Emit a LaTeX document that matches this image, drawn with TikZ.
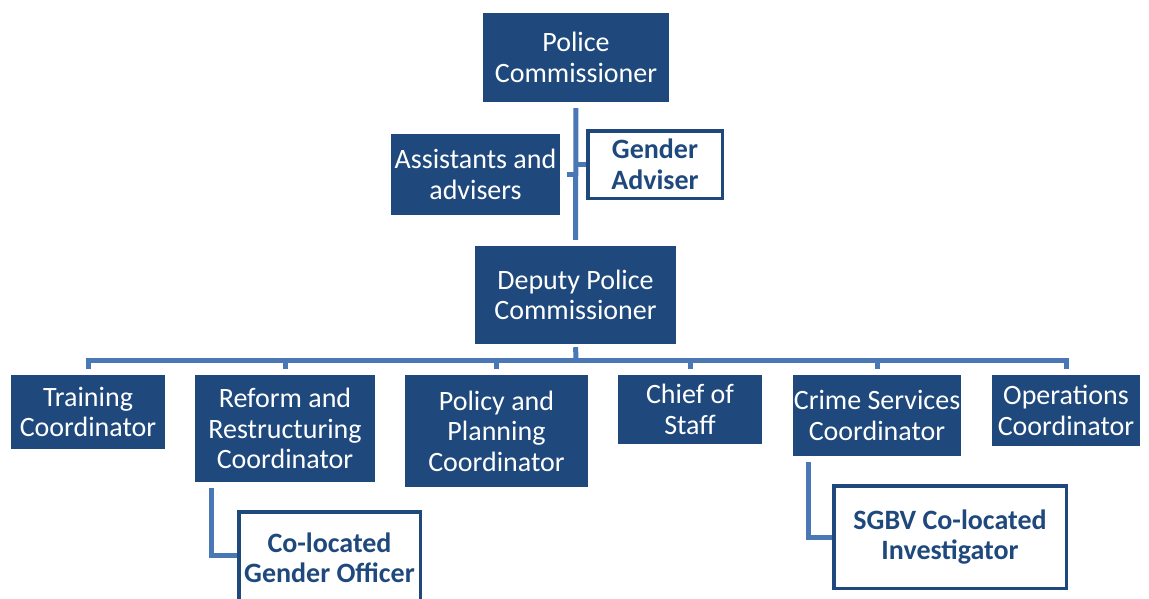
\documentclass[tikz,border=0pt]{standalone}
\usepackage{fontspec}
\setmainfont{Carlito}
\definecolor{dk}{RGB}{31,73,125}
\definecolor{ln}{RGB}{74,120,180}
\begin{document}
\begin{tikzpicture}[x=1pt,y=-1pt,
  dbox/.style={fill=dk, text=white, inner sep=0pt, align=center, font=\fontsize{28}{30.5}\selectfont},
  wbox/.style={draw=dk, line width=3.5pt, fill=white, text=dk, inner sep=0pt, align=center, font=\bfseries\fontsize{28}{30.5}\selectfont},
  conn/.style={draw=ln, line width=5pt, line join=miter}]
\fill[white] (0,0) rectangle (1149,598);
\useasboundingbox (0,0) rectangle (1149,598);
% nodes
\node[dbox, minimum width=186pt, minimum height=89pt] (pc) at (576,57.5) {Police\\Commissioner};
\node[dbox, minimum width=169pt, minimum height=81pt] (aa) at (475.5,174.5) {Assistants and\\advisers};
\node[wbox, minimum width=134.5pt, minimum height=67.5pt] (ga) at (655,164.5) {Gender\\Adviser};
\node[dbox, minimum width=201pt, minimum height=98pt] (dpc) at (575.5,295) {Deputy Police\\Commissioner};
\node[dbox, minimum width=154pt, minimum height=74pt] (tc) at (88,412) {Training\\Coordinator};
\node[dbox, minimum width=180pt, minimum height=107pt] (rr) at (285,428.5) {Reform and\\Restructuring\\Coordinator};
\node[dbox, minimum width=183pt, minimum height=112pt] (pp) at (496.5,431) {Policy and\\Planning\\Coordinator};
\node[dbox, minimum width=144pt, minimum height=69pt] (cs) at (690,409.5) {Chief of\\Staff};
\node[dbox, minimum width=168pt, minimum height=81pt] (csc) at (877,415.5) {Crime Services\\Coordinator};
\node[dbox, minimum width=148pt, minimum height=71pt] (oc) at (1066,410.5) {Operations\\Coordinator};
\node[wbox, minimum width=181.5pt, minimum height=92.5pt] (cgo) at (329.5,558) {Co-located\\Gender Officer};
\node[wbox, minimum width=232.5pt, minimum height=102.5pt] (sg) at (950,537) {SGBV Co-located\\Investigator};
% connectors
\draw[conn, shorten <=6pt, shorten >=6pt] (pc.south) -- (dpc.north);
\draw[conn, shorten <=7pt] (aa.east) -- (aa.east -| pc.south);
\draw[conn] (ga.west -| pc.south) -- (ga.west);
\coordinate (bus) at (576,360);
\draw[conn, shorten <=3pt] (dpc.south) -- (bus);
\draw[conn, shorten <=6pt, shorten >=6pt] (tc.north) -- (tc.north |- bus) -- (oc.north |- bus) -- (oc.north);
\draw[conn, shorten >=6pt] (rr.north |- bus) -- (rr.north);
\draw[conn, shorten >=6pt] (pp.north |- bus) -- (pp.north);
\draw[conn, shorten >=6pt] (cs.north |- bus) -- (cs.north);
\draw[conn, shorten >=6pt] (csc.north |- bus) -- (csc.north);
\coordinate (rk) at (211,555);
\draw[conn, shorten <=6pt] (rk |- rr.south) -- (rk) -- (rk -| cgo.west);
\coordinate (ck) at (808,537);
\draw[conn, shorten <=6pt] (ck |- csc.south) -- (ck) -- (sg.west);
\end{tikzpicture}
\end{document}
